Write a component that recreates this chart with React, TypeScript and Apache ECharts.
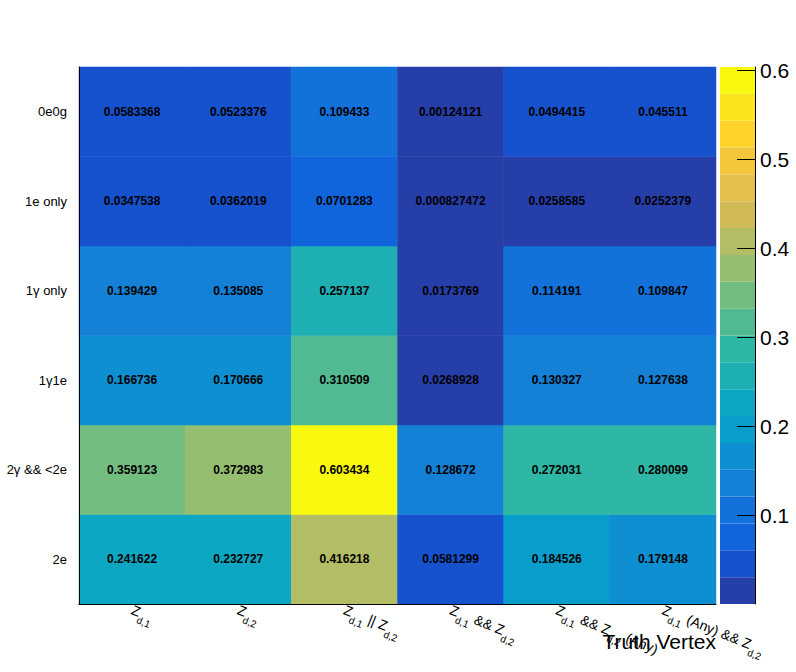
import React, { useEffect, useRef } from "react";
import * as echarts from "echarts";

const xCategories = [
  "Z_{d,1}",
  "Z_{d,2}",
  "Z_{d,1} || Z_{d,2}",
  "Z_{d,1} && Z_{d,2}",
  "Z_{d,1} && Z_{d,2} (Any)",
  "Z_{d,1} (Any) && Z_{d,2}",
];
// bottom to top
const yCategories = ["2e", "2γ && <2e", "1γ1e", "1γ only", "1e only", "0e0g"];

const row2e = [0.241622, 0.232727, 0.416218, 0.0581299, 0.184526, 0.179148];
const row2g = [0.359123, 0.372983, 0.603434, 0.128672, 0.272031, 0.280099];
const row1g1e = [0.166736, 0.170666, 0.310509, 0.0268928, 0.130327, 0.127638];
const row1g = [0.139429, 0.135085, 0.257137, 0.0173769, 0.114191, 0.109847];
const row1e = [0.0347538, 0.0362019, 0.0701283, 0.000827472, 0.0258585, 0.0252379];
const row0 = [0.0583368, 0.0523376, 0.109433, 0.00124121, 0.0494415, 0.045511];
const rows = [row2e, row2g, row1g1e, row1g, row1e, row0];

const colorbarTicks = [0.1, 0.2, 0.3, 0.4, 0.5, 0.6];
const nLevels = 20;

// ROOT kBird palette
const stops = [0.0, 0.125, 0.25, 0.375, 0.5, 0.625, 0.75, 0.875, 1.0];
const red = [0.2082, 0.0592, 0.078, 0.0232, 0.1802, 0.5301, 0.8186, 0.9956, 0.9764];
const green = [0.1664, 0.3599, 0.5041, 0.6419, 0.7178, 0.7492, 0.7328, 0.7862, 0.9832];
const blue = [0.5293, 0.8684, 0.8385, 0.7914, 0.6425, 0.4662, 0.3499, 0.1968, 0.0539];

function buildPalette(): string[] {
  const N = 255;
  const table: number[][] = [];
  for (let g = 1; g < stops.length; g++) {
    const n = Math.floor(N * stops[g]) - Math.floor(N * stops[g - 1]);
    for (let c = 0; c < n; c++) {
      const t = c / n;
      table.push([
        red[g - 1] + (red[g] - red[g - 1]) * t,
        green[g - 1] + (green[g] - green[g - 1]) * t,
        blue[g - 1] + (blue[g] - blue[g - 1]) * t,
      ]);
    }
  }
  const out: string[] = [];
  for (let k = 0; k < nLevels; k++) {
    let idx = Math.floor(((k + 0.99) * N) / nLevels);
    if (idx > table.length - 1) idx = table.length - 1;
    const [r, gg, b] = table[idx];
    out.push(`rgb(${Math.round(r * 255)},${Math.round(gg * 255)},${Math.round(b * 255)})`);
  }
  return out;
}

function toRich(s: string): string {
  const parts = s.split(/_\{([^}]*)\}/);
  let out = "";
  parts.forEach((p, i) => {
    if (i % 2 === 0) {
      if (p.length) out += "{m|" + p + "}";
    } else {
      out += "{s|" + p + "}";
    }
  });
  return out;
}

const FONT = "'Liberation Sans', Arial, Helvetica, sans-serif";

export default function App() {
  const ref = useRef<HTMLDivElement>(null);
  useEffect(() => {
    document.body.style.margin = "0";
    if (!ref.current) return;
    const chart = echarts.init(ref.current, undefined, { renderer: "svg" });
    const palette = buildPalette();
    const all = rows.flat();
    const zmin = Math.min(...all);
    const zmax = Math.max(...all);
    const step = (zmax - zmin) / nLevels;
    const pieces: any[] = palette.map((c, k) =>
      k === nLevels - 1
        ? { gte: zmin + k * step, lte: zmax + 1, color: c }
        : { gte: zmin + k * step, lt: zmin + (k + 1) * step, color: c }
    );
    pieces[0] = { ...pieces[0], gte: zmin - 1 };
    const heatData: number[][] = [];
    rows.forEach((row, y) => row.forEach((v, x) => heatData.push([x, y, v])));
    const barData = palette.map((_, k) => [zmin + k * step, zmin + (k + 1) * step, k]);

    chart.setOption({
      animation: false,
      backgroundColor: "#ffffff",
      textStyle: { fontFamily: FONT },
      grid: [
        { left: 79, right: 80, top: 67, bottom: 68 },
        { left: 720, width: 35, top: 67, bottom: 68 },
      ],
      xAxis: [
        {
          type: "category",
          gridIndex: 0,
          data: xCategories,
          axisLine: { lineStyle: { color: "#000", width: 1 } },
          axisTick: { inside: true, length: 18, lineStyle: { color: "#000" } },
          splitLine: { show: false },
          z: 10,
          axisLabel: {
            rotate: -22,
            margin: 5,
            interval: 0,
            color: "#000",
            formatter: (v: string) => toRich(v),
            rich: {
              m: { fontSize: 14, lineHeight: 16, verticalAlign: "middle", fontFamily: FONT, color: "#000" },
              s: { fontSize: 10, lineHeight: 12, padding: [16, 0, 0, 0], verticalAlign: "middle", fontFamily: FONT, color: "#000" },
            },
          },
        },
        { type: "value", gridIndex: 1, min: 0, max: 1, show: false },
      ],
      yAxis: [
        {
          type: "category",
          gridIndex: 0,
          data: yCategories,
          axisLine: { lineStyle: { color: "#000", width: 1 } },
          axisTick: { inside: true, length: 19, lineStyle: { color: "#000" } },
          splitLine: { show: false },
          z: 10,
          axisLabel: { color: "#000", fontSize: 13, margin: 12, fontFamily: FONT },
        },
        {
          type: "value",
          gridIndex: 1,
          min: zmin,
          max: zmax,
          position: "right",
          z: 10,
          axisLine: { show: true, onZero: false, lineStyle: { color: "#000", width: 1 } },
          axisTick: { show: true, inside: true, length: 18, customValues: colorbarTicks, lineStyle: { color: "#000" } },
          splitLine: { show: false },
          axisLabel: {
            show: true,
            customValues: colorbarTicks,
            color: "#000",
            fontSize: 21,
            margin: 5,
            fontFamily: FONT,
            formatter: (v: number) => v.toFixed(1),
          },
        },
      ],
      visualMap: {
        type: "piecewise",
        show: false,
        seriesIndex: 0,
        dimension: 2,
        pieces,
      },
      graphic: [
        {
          type: "text",
          right: 80,
          top: 631,
          z: 20,
          style: { text: "Truth Vertex", fontSize: 21, fontFamily: FONT, fill: "#000" },
        },
      ],
      series: [
        {
          type: "heatmap",
          xAxisIndex: 0,
          yAxisIndex: 0,
          data: heatData,
          label: {
            show: true,
            color: "#000",
            fontWeight: "bold",
            fontSize: 12,
            fontFamily: FONT,
            formatter: (p: any) => String(p.value[2]),
          },
          emphasis: { disabled: true },
        },
        {
          type: "custom",
          xAxisIndex: 1,
          yAxisIndex: 1,
          data: barData,
          silent: true,
          renderItem: (params: any, api: any) => {
            const lo = api.value(0);
            const hi = api.value(1);
            const p0 = api.coord([0, lo]);
            const p1 = api.coord([1, hi]);
            return {
              type: "rect",
              shape: { x: p0[0], y: p1[1], width: p1[0] - p0[0], height: p0[1] - p1[1] },
              style: { fill: palette[api.value(2)] },
            };
          },
        },
      ],
    });
    return () => chart.dispose();
  }, []);
  return <div ref={ref} style={{ width: 796, height: 672 }} />;
}
